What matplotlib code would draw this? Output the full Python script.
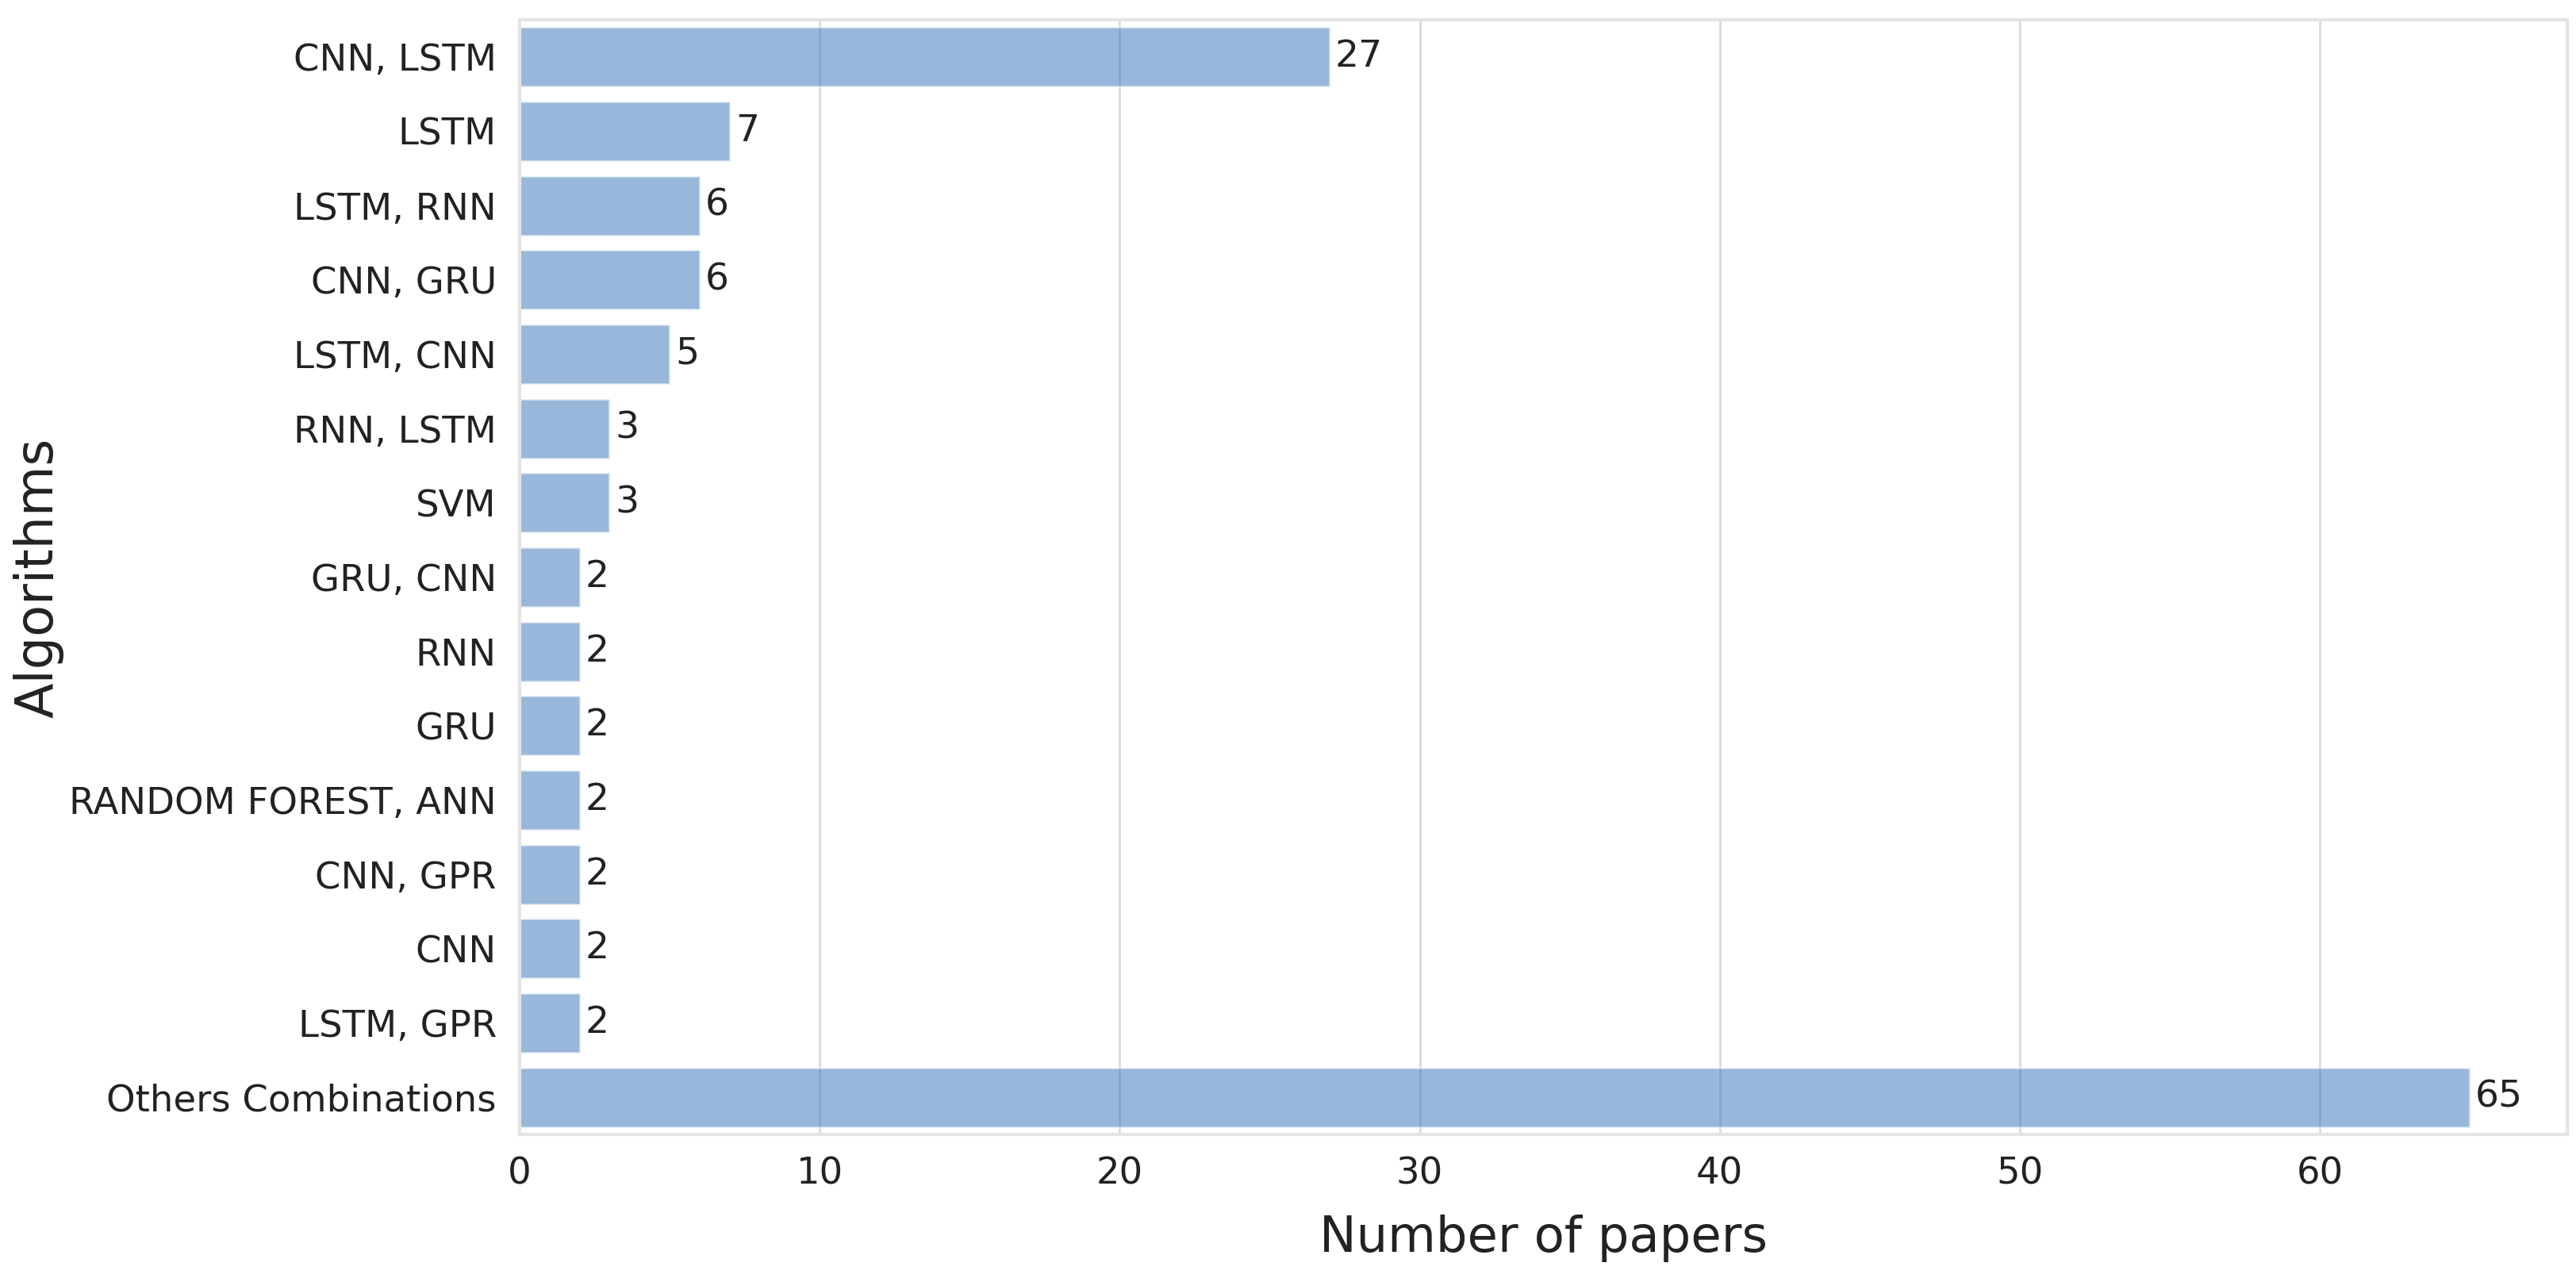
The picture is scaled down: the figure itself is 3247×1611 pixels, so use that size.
import matplotlib
matplotlib.use("Agg")
import matplotlib.pyplot as plt
import numpy as np

categories = ["CNN, LSTM", "LSTM", "LSTM, RNN", "CNN, GRU", "LSTM, CNN",
              "RNN, LSTM", "SVM", "GRU, CNN", "RNN", "GRU",
              "RANDOM FOREST, ANN", "CNN, GPR", "CNN", "LSTM, GPR",
              "Others Combinations"]
counts = [27, 7, 6, 6, 5, 3, 3, 2, 2, 2, 2, 2, 2, 2, 65]
xticks = [0, 10, 20, 30, 40, 50, 60]

plt.rcParams['font.family'] = ['DejaVu Sans']

fig = plt.figure(figsize=(32.48, 16.11), dpi=100)
ax = fig.add_axes([655/3248, 1 - 1430/1611, (3236-655)/3248, (1430-25)/1611])

y = np.arange(len(categories))
bars = ax.barh(y, counts, height=0.8, color='#3371b7', alpha=0.5,
               edgecolor='white', linewidth=2.0, zorder=2)

ax.set_ylim(len(categories) - 0.5, -0.5)
ax.set_xlim(0, max(counts) * 1.05)
ax.set_yticks(y)
ax.set_yticklabels(categories)
ax.set_xticks(xticks)
ax.set_xticklabels([str(t) for t in xticks])

ax.set_axisbelow(True)
ax.grid(axis='x', color='#d6d6d6', linewidth=1.8, zorder=0)
ax.grid(axis='y', visible=False)
for s in ax.spines.values():
    s.set_color('#e4e4e4')
    s.set_linewidth(3.0)

ax.tick_params(axis='both', length=0, labelsize=33.5, colors='#222222')
ax.tick_params(axis='y', pad=21)
ax.tick_params(axis='x', pad=20)

ax.bar_label(bars, labels=[str(c) for c in counts], padding=5,
             fontsize=34, color='#222222')

fig.text((655+3236)/2/3248, 1 - 1578/1611, "Number of papers",
         ha='center', va='baseline', fontsize=45, color='#222222')
fig.text(48/3248, 1 - 728/1611, "Algorithms", rotation=90,
         ha='center', va='center', fontsize=47, color='#222222')

fig.savefig("out.png", dpi=100, facecolor='white')
